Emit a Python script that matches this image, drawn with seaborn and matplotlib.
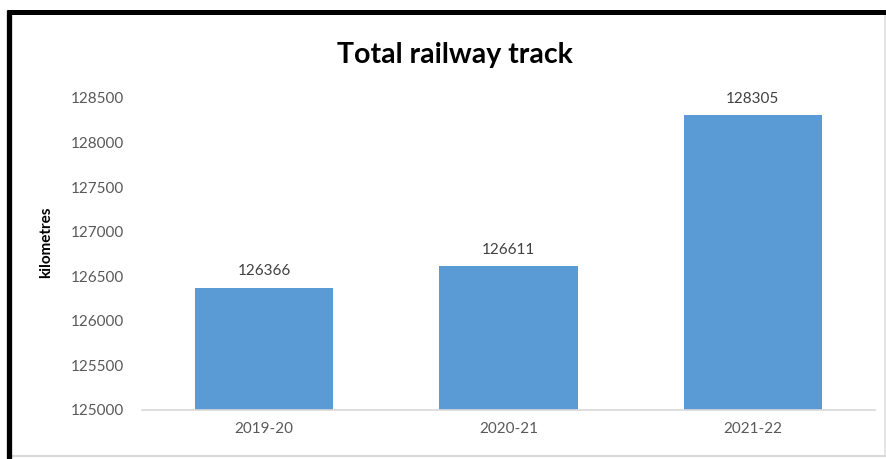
import matplotlib
matplotlib.use("Agg")
import matplotlib.pyplot as plt
import seaborn as sns
import pandas as pd
from matplotlib.lines import Line2D

years = ["2019-20", "2020-21", "2021-22"]
track_km = [126366, 126611, 128305]
yticks = [125000, 125500, 126000, 126500, 127000, 127500, 128000, 128500]

df = pd.DataFrame({"year": years, "km": track_km})

sns.set_style("white")
plt.rcParams["font.family"] = ["Lato", "DejaVu Sans"]

fig = plt.figure(figsize=(8.87, 4.59), dpi=100)
ax = fig.add_axes([0.160, 0.1068, 0.8265, 0.6797])

sns.barplot(data=df, x="year", y="km", color="#5B9BD5", width=0.565,
            saturation=1, ax=ax, edgecolor="none")

ax.set_ylim(125000, 128500)
ax.set_yticks(yticks)
ax.set_yticklabels([str(v) for v in yticks], fontsize=11, color="#595959")
ax.set_xticklabels(years, fontsize=11, color="#595959")
ax.tick_params(axis="both", length=0)
ax.tick_params(axis="y", pad=13)
ax.tick_params(axis="x", pad=9)
for s in ["top", "right", "left"]:
    ax.spines[s].set_visible(False)
ax.spines["bottom"].set_color("#D9D9D9")
ax.spines["bottom"].set_linewidth(1.2)
ax.set_xlabel("")
ax.set_ylabel("kilometres", fontsize=11, fontweight="bold", color="black")
ax.yaxis.set_label_coords(-0.121, 0.538)

for p, v in zip(ax.patches, track_km):
    ax.annotate(str(v), (p.get_x() + p.get_width() / 2, v),
                xytext=(0, 7), textcoords="offset points",
                ha="center", va="bottom", fontsize=11, color="#404040")

fig.text(0.513, 0.880, "Total railway track", ha="center", va="center",
         fontsize=20.5, fontweight="bold", color="black")

# frame: thick black top and left, light grey right and bottom
fig.add_artist(Line2D([885.5 / 887, 885.5 / 887], [3.5 / 459, 1 - 14 / 459], color="#E0E0E0", lw=1.2,
                      transform=fig.transFigure))
fig.add_artist(Line2D([12 / 887, 886 / 887], [3.5 / 459, 3.5 / 459], color="#D8D8D8", lw=1.5,
                      transform=fig.transFigure))
fig.add_artist(Line2D([9.5 / 887, 9.5 / 887], [0, 1 - 10 / 459], color="black", lw=3.8,
                      transform=fig.transFigure, solid_capstyle="butt"))
fig.add_artist(Line2D([7 / 887, 1], [1 - 12 / 459, 1 - 12 / 459], color="black", lw=3.6,
                      transform=fig.transFigure, solid_capstyle="butt"))

fig.savefig("out.png", dpi=100)
